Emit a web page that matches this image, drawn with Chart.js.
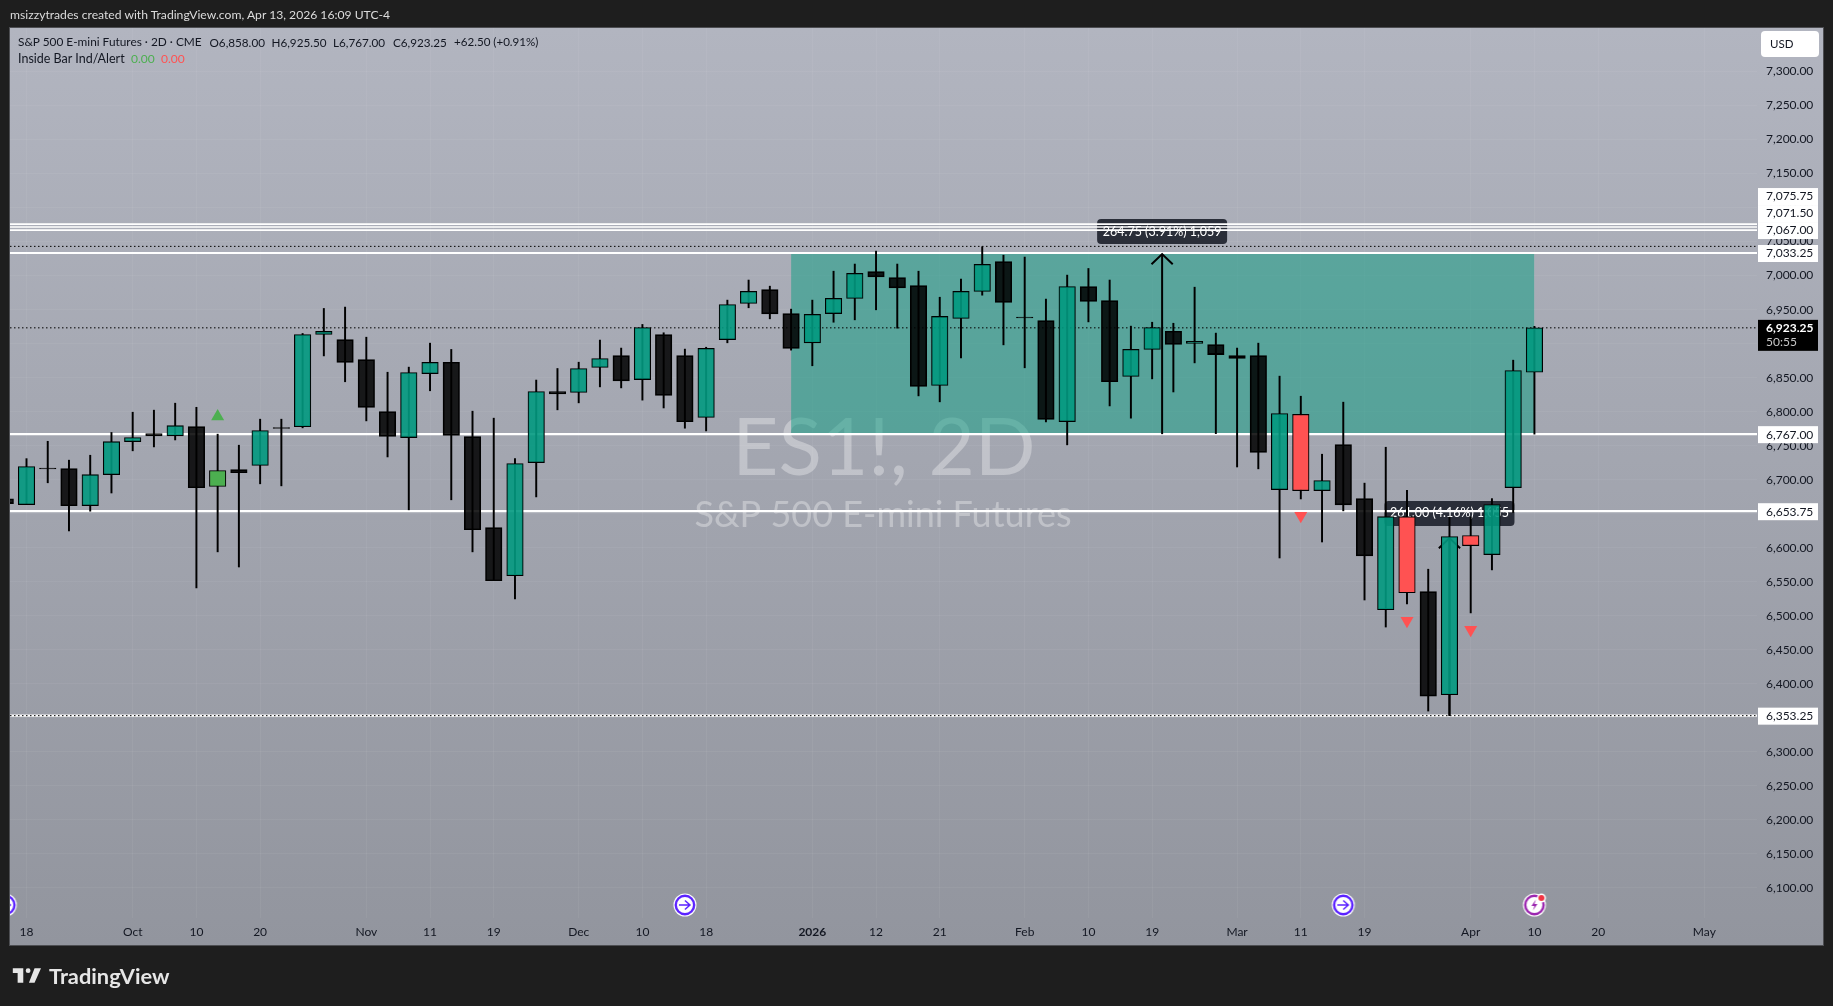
<!DOCTYPE html>
<html>
<head>
<meta charset="utf-8">
<style>
html,body{margin:0;padding:0;background:#1e1e1e;width:1833px;height:1006px;overflow:hidden;font-family:Lato,sans-serif}
#plotbg{position:absolute;left:9px;top:27px;width:1813px;height:917px;border:1px solid #4d4e52;background:linear-gradient(#b2b5c0,#92959e)}
canvas{position:absolute;left:0;top:0}
.t{position:absolute;white-space:pre;line-height:16px;color:#131722}
</style>
</head>
<body>
<div id="plotbg"></div>
<canvas id="c" width="1833" height="1006"></canvas>
<div class="t" style="left:10px;top:7px;font-size:12.15px;color:#dcdcdc">msizzytrades created with TradingView.com, Apr 13, 2026 16:09 UTC-4</div>
<div class="t" style="left:18px;top:34px;font-size:11.85px">S&amp;P 500 E-mini Futures · 2D · CME</div>
<div class="t" style="left:209.5px;top:34px;font-size:11.7px">O6,858.00</div>
<div class="t" style="left:271.5px;top:34px;font-size:11.7px">H6,925.50</div>
<div class="t" style="left:333px;top:34px;font-size:11.7px">L6,767.00</div>
<div class="t" style="left:393px;top:34px;font-size:11.7px">C6,923.25</div>
<div class="t" style="left:454px;top:34px;font-size:11.6px">+62.50 (+0.91%)</div>
<div class="t" style="left:18px;top:51px;font-size:12.5px">Inside Bar Ind/Alert</div>
<div class="t" style="left:131px;top:51px;font-size:12px;color:#4caf50">0.00</div>
<div class="t" style="left:161px;top:51px;font-size:12px;color:#ff5252">0.00</div>
<svg style="position:absolute;left:12px;top:967px" width="29" height="17" viewBox="0 0 36 20"><path fill="#e6e6e6" d="M14 1H1v6h6v12h7V1zm14 18h-7l7-18h8l-8 18zM20 7a3 3 0 1 0 0-6 3 3 0 0 0 0 6z"/></svg>
<div class="t" style="left:49px;top:964px;font-size:21.8px;line-height:24px;font-weight:700;color:#e6e6e6">TradingView</div>
<script src="https://cdn.jsdelivr.net/npm/chart.js@4"></script>
<script>
// bar index runs from -1 (partly clipped) to 71
const opens = [6672,
 6663.5,6717,6716.5,6662,6707.5,6756,6768,6764.5,6778,6690,
 6715,6721,6776.75,6778,6913.5,6906,6876.5,6800.25,6762,6856,
 6872.5,6763.5,6629.75,6559,6725.25,6829.75,6828.25,6865,6882.5,6847.25,
 6913.5,6882.5,6791.5,6906,6959,6979.5,6944.25,6901.25,6944.25,6966.5,
 7006,6997.25,6985.5,6838.5,6937,6976.75,7020.75,6939,6934,6785.5,
 6984,6963.5,6851.75,6891.5,6918,6900.25,6898.75,6882.5,6882.5,6685.5,
 6796,6684,6751.75,6672.25,6509,6645.75,6535.5,6384,6618,6590,
 6688.5,6858];
const highs = [6672,
 6731,6756.5,6728.75,6736,6769.5,6799.25,6802.25,6812.5,6806.5,6767,
 6750.75,6789,6789,6915,6951.75,6953.75,6909.5,6858,6865.5,6900.75,
 6891.5,6800.75,6790.5,6731,6846.5,6863.5,6872.75,6905.25,6893.5,6928.25,
 6916,6892,6894.75,6964,6993.5,6984.5,6950.75,6964,7006.5,7017,
 7036,7017,7006.5,6968.25,6994.75,7042.5,7030,7027.25,6965.5,7000.75,
 7010.5,6993.5,6925.75,6931.5,6930,6983,6915.5,6893.5,6900.75,6852.25,
 6822.75,6737.5,6814,6695,6747.75,6684.5,6568.5,6645,6645.5,6672.25,
 6875.75,6925.5];
const lows = [6665,
 6663.5,6695.5,6624.75,6653.75,6680.5,6742.5,6748.25,6758.5,6541,6594,
 6571.75,6694,6691,6776.25,6882,6844,6786.5,6733.5,6655.75,6830.75,
 6670.5,6594,6551.75,6524.75,6674.75,6802.75,6813,6836.5,6835,6817,
 6805.5,6775.75,6771.75,6901.25,6952.75,6936.5,6890.5,6867.5,6931.5,6935,
 6949.75,6922.75,6823.25,6814.5,6879,6971.25,6898.25,6864.5,6785,6751.25,
 6932,6808.5,6790.5,6848.25,6829,6871.75,6767.75,6718.75,6716,6585,
 6671.75,6608.5,6654.25,6523.25,6483.5,6517.5,6360,6353.25,6504.25,6567.5,
 6651.75,6767];
const closes = [6665,
 6719.5,6716,6662,6707.5,6756,6762,6764.5,6779.5,6688.5,6713.5,
 6710.5,6772.25,6775.25,6913.5,6918,6872.5,6806.25,6763.5,6857.5,6872.5,
 6765,6626.75,6551.75,6723.75,6829.75,6826.25,6863.5,6878.25,6845.25,6923.75,
 6823.75,6785.5,6893,6957.5,6976.75,6943.75,6893,6943,6966.5,7003.25,
 6998.25,6982,6837,6940,6976.75,7016.5,6960.5,6938,6788.5,6984,
 6962,6844.25,6891.5,6923.75,6898.75,6903.25,6884,6878.25,6740,6797.25,
 6684,6698.75,6663,6588,6645.75,6534,6382,6616.5,6603.25,6663.5,
 6860.5,6923.25];
const firstBar = -1;

const insideUpBars = [9];
const insideDownBars = [60,65,68];
const upSignals = [6793];
const downSignals = [6647,6492.75,6479.5];

const whiteLevels = [7075.75,7071.5,7067];
const heavyLevels = [7033.25,6767,6653.75,6353.25];
const dottedLevels = [7043,6923.25,6353.25];

const zoneBars = [36,71];
const zonePrices = [6767,7033.25];

const arrowBars = [53.47,67];
const arrowFrom = [6767,6353.25];
const arrowTo = [7031.75,6614.25];
const measureTexts = ['264.75 (3.91%) 1,059','261.00 (4.16%) 1,055'];
const measureLabelY = [7064.75,6650.5];

const yTicks = [6100,6150,6200,6250,6300,6350,6400,6450,6500,6550,6600,6650,6700,6750,6800,6850,6900,6950,7000,7050,7100,7150,7200,7250,7300];
const xTickBars = [0,5,8,11,16,19,22,26,29,32,37,40,43,47,50,53,57,60,63,68,71,74,79];
const xTickLabels = ['18','Oct','10','20','Nov','11','19','Dec','10','18','2026','12','21','Feb','10','19','Mar','11','19','Apr','10','20','May'];

const eventBars = [-1,31,62];
const earningsBars = [71];
const eventPrice = 6075;

const axisLabels = [7033.25,6767,6653.75,6353.25];
const stackedLabels = [7075.75,7071.5,7067];
const lastPrice = 6923.25;
const countdown = '50:55';

const FONT = 'Lato, sans-serif';
const UP = 'rgba(2,153,128,0.9)', DOWN = 'rgba(0,0,0,0.86)', RED = '#ff5252', LIME = '#4caf50';
const fmt = v => v.toLocaleString('en-US',{minimumFractionDigits:2,maximumFractionDigits:2});
const barIdx = opens.map((_,i)=>i+firstBar);
const X0 = -0.777, X1 = 81.48, Y0 = 6055.85, Y1 = 7363.95;

function bodyColor(i){
  const b = barIdx[i];
  if (insideUpBars.includes(b)) return LIME;
  if (insideDownBars.includes(b)) return RED;
  return closes[i] >= opens[i] ? UP : DOWN;
}
function iconCanvas(kind){
  const c = document.createElement('canvas'); c.width = 26; c.height = 26;
  const g = c.getContext('2d'), col = kind==='event' ? '#5b22ff' : '#9c27b0';
  g.fillStyle='#fff'; g.beginPath(); g.arc(13,13,11.5,0,7); g.fill();
  g.strokeStyle=col; g.lineWidth=2.4; g.beginPath(); g.arc(13,13,9.2,0,7); g.stroke();
  g.lineWidth=1.5; g.fillStyle=col;
  if(kind==='event'){
    g.beginPath(); g.moveTo(7,13); g.lineTo(18,13); g.moveTo(13,8.5); g.lineTo(18,13); g.lineTo(13,17.5); g.stroke();
  } else {
    g.beginPath(); g.moveTo(14.5,7.5); g.lineTo(10,14); g.lineTo(13,14); g.lineTo(11.5,18.5); g.lineTo(16,12); g.lineTo(13,12); g.closePath(); g.fill();
    g.fillStyle='#fff'; g.beginPath(); g.arc(20,6,4.5,0,7); g.fill();
    g.fillStyle='#f23645'; g.beginPath(); g.arc(20,6,3,0,7); g.fill();
  }
  return c;
}
const hLine = (v,color,width,dash,order)=>({type:'line',data:[{x:X0,y:v},{x:X1,y:v}],borderColor:color,borderWidth:width,borderDash:dash||[],pointRadius:0,order:order,fill:false});

const datasets = [];
datasets.push({type:'line',label:'zone',data:zoneBars.map(b=>({x:b,y:zonePrices[1]})),borderColor:'#000',borderWidth:1.5,backgroundColor:'rgba(10,158,130,0.5)',fill:{value:zonePrices[0]},pointRadius:0,order:100});
whiteLevels.forEach(v=>datasets.push(hLine(v,'#fff',1.7,null,60)));
heavyLevels.forEach(v=>datasets.push(hLine(v,'#fff',2.2,null,60)));
dottedLevels.forEach(v=>datasets.push(hLine(v,'#000',1,[1.5,2.5],55)));
arrowBars.forEach((b,k)=>{
  datasets.push({type:'line',data:[{x:b,y:arrowFrom[k]},{x:b,y:arrowTo[k]}],borderColor:'#000',borderWidth:2,pointRadius:0,order:50});
  datasets.push({type:'line',data:[{x:b-0.5,y:arrowTo[k]-15},{x:b,y:arrowTo[k]},{x:b+0.5,y:arrowTo[k]-15}],borderColor:'#000',borderWidth:2,pointRadius:0,order:50});
});
datasets.push({type:'bar',label:'wick',data:barIdx.map((b,i)=>({x:b,y:[lows[i],highs[i]]})),backgroundColor:'#000',borderWidth:0,barThickness:1.3,grouped:false,order:20});
datasets.push({type:'bar',label:'body',data:barIdx.map((b,i)=>({x:b,y:[opens[i],closes[i]]})),backgroundColor:barIdx.map((b,i)=>bodyColor(i)),borderColor:'#000',borderWidth:1.1,borderSkipped:false,barThickness:16.5,grouped:false,order:10});
datasets.push({type:'scatter',data:insideUpBars.map((b,i)=>({x:b,y:upSignals[i]})),pointStyle:'triangle',pointRadius:7.5,backgroundColor:LIME,borderWidth:0,order:5});
datasets.push({type:'scatter',data:insideDownBars.map((b,i)=>({x:b,y:downSignals[i]})),pointStyle:'triangle',rotation:180,pointRadius:7.5,backgroundColor:RED,borderWidth:0,order:5});
datasets.push({type:'scatter',data:eventBars.map(b=>({x:b,y:eventPrice})),pointStyle:iconCanvas('event'),order:4});
datasets.push({type:'scatter',data:earningsBars.map(b=>({x:b,y:eventPrice})),pointStyle:iconCanvas('earn'),order:4});

const decor = {
  id:'decor',
  beforeDatasetsDraw(chart){
    const {ctx,scales:{x,y},chartArea:a} = chart;
    ctx.save();
    ctx.beginPath(); ctx.rect(a.left,a.top,a.width,a.height); ctx.clip();
    ctx.fillStyle='rgba(255,255,255,0.33)'; ctx.textAlign='center'; ctx.textBaseline='middle';
    ctx.font='80px '+FONT; ctx.fillText('ES1!, 2D',884,449);
    ctx.font='36px '+FONT; ctx.fillText('S&P 500 E-mini Futures',883,515);
    arrowBars.forEach((b,k)=>{
      const cx=x.getPixelForValue(b), cy=y.getPixelForValue(measureLabelY[k]);
      ctx.fillStyle='#2a2e39';
      ctx.beginPath(); ctx.roundRect(cx-65,cy-12.5,130,25,4); ctx.fill();
      ctx.fillStyle='#fff'; ctx.font='12.5px '+FONT;
      ctx.fillText(measureTexts[k],cx,cy);
    });
    ctx.restore();
  },
  afterDatasetsDraw(chart){
    const {ctx,scales:{y}} = chart;
    ctx.save();
    ctx.textAlign='left'; ctx.textBaseline='middle';
    const box=(yc,h,bg)=>{ctx.fillStyle=bg;ctx.fillRect(1758,yc-h/2+.5,60,h);};
    const yLow = y.getPixelForValue(stackedLabels[stackedLabels.length-1]);
    stackedLabels.forEach((v,i)=>{
      const yc = yLow-17*(stackedLabels.length-1-i);
      box(yc,17,'#fff');
      ctx.fillStyle='#131722'; ctx.font='12px '+FONT; ctx.fillText(fmt(v),1766,yc+.5);
    });
    axisLabels.forEach(v=>{
      const yc=y.getPixelForValue(v);
      box(yc,17,'#fff');
      ctx.fillStyle='#131722'; ctx.font='12px '+FONT; ctx.fillText(fmt(v),1766,yc+.5);
    });
    const yl=y.getPixelForValue(lastPrice);
    ctx.fillStyle='#000'; ctx.fillRect(1758,yl-8,60,31);
    ctx.fillStyle='#fff'; ctx.font='bold 12px '+FONT; ctx.fillText(fmt(lastPrice),1766,yl+.5);
    ctx.fillStyle='#c8c8c8'; ctx.font='12px '+FONT; ctx.fillText(countdown,1766,yl+14.5);
    ctx.fillStyle='#fff';
    ctx.beginPath(); ctx.roundRect(1761,31,58,26,4); ctx.fill();
    ctx.fillStyle='#131722'; ctx.font='11.5px '+FONT; ctx.fillText('USD',1770,44.5);
    ctx.restore();
  }
};

new Chart(document.getElementById('c'),{
  type:'bar',
  data:{datasets},
  plugins:[decor],
  options:{
    responsive:false,animation:false,devicePixelRatio:1,
    layout:{padding:{left:10,top:28,right:11,bottom:61}},
    plugins:{legend:{display:false},tooltip:{enabled:false},title:{display:false}},
    scales:{
      x:{type:'linear',min:X0,max:X1,offset:false,
        grid:{color:'rgba(255,255,255,0.05)',offset:false,drawTicks:false},border:{display:false},
        afterBuildTicks:s=>{s.ticks=xTickBars.map(v=>({value:v}));},
        afterFit:s=>{s.height=27;},
        ticks:{autoSkip:false,maxRotation:0,padding:7,color:'#131722',
          font:c=>({family:FONT,size:12,weight:xTickLabels[xTickBars.indexOf(c.tick&&c.tick.value)]==='2026'?'bold':'normal'}),
          callback:v=>xTickLabels[xTickBars.indexOf(v)]}},
      y:{type:'linear',position:'right',min:Y0,max:Y1,
        grid:{color:'rgba(255,255,255,0.05)',drawTicks:false},border:{display:false},
        afterBuildTicks:s=>{s.ticks=yTicks.map(v=>({value:v}));},
        afterFit:s=>{s.width=65;},
        ticks:{autoSkip:false,padding:9,color:'#131722',font:{family:FONT,size:12},callback:v=>fmt(v)}}
    }
  }
});
</script>
</body>
</html>
